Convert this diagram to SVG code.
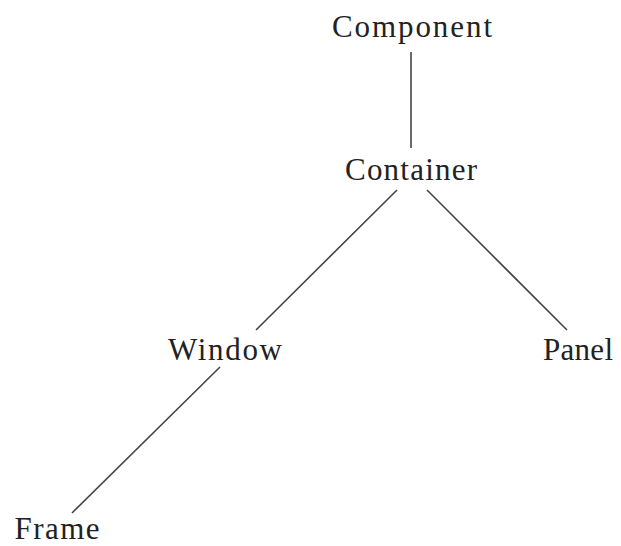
<svg xmlns="http://www.w3.org/2000/svg" width="621" height="546" viewBox="0 0 621 546">
<style>
.lbl{font-family:"Liberation Serif","Times New Roman",serif;font-size:31px;fill:#222;text-anchor:middle}
.edge{stroke:#444;stroke-width:1.6;fill:none}
</style>
<rect width="621" height="546" fill="#fff"/>
<g id="connectors">
<line class="edge" x1="411" y1="52" x2="411" y2="148"/>
<line class="edge" x1="397" y1="190" x2="256" y2="330"/>
<line class="edge" x1="427" y1="190" x2="567" y2="330"/>
<line class="edge" x1="220" y1="367" x2="72" y2="513"/>
</g>
<g id="component"><text class="lbl" x="412" y="37" textLength="160" lengthAdjust="spacing">Component</text></g>
<g id="container"><text class="lbl" x="411" y="180" textLength="132" lengthAdjust="spacing">Container</text></g>
<g id="window"><text class="lbl" x="225" y="360" textLength="114" lengthAdjust="spacing">Window</text></g>
<g id="panel"><text class="lbl" x="578" y="360" textLength="70" lengthAdjust="spacing">Panel</text></g>
<g id="frame"><text class="lbl" x="57" y="539" textLength="85" lengthAdjust="spacing">Frame</text></g>
</svg>
